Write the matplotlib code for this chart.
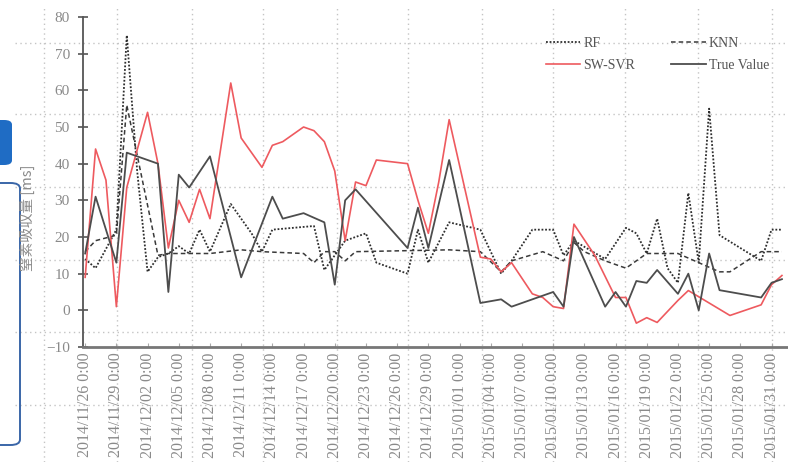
import matplotlib
matplotlib.use("Agg")
import matplotlib.pyplot as plt
import matplotlib.dates as mdates
import matplotlib.patches as patches
from matplotlib.lines import Line2D
from matplotlib.ticker import FixedLocator, FuncFormatter
import numpy as np
import pandas as pd

plt.rcParams['font.family'] = ['Liberation Serif', 'DejaVu Serif']

# data: day offsets from 2014/11/26 and values
start = pd.Timestamp("2014-11-26")

true_days = [0, 1, 3, 4, 7, 8, 9, 10, 12, 15, 18, 19, 21, 23, 24, 25, 26, 31, 32, 33, 35,
             38, 40, 41, 45, 46, 47, 50, 51, 52, 53, 54, 55, 57, 58, 59, 60, 61, 65, 66, 67]
true_vals = [15.5, 31, 13, 43, 40, 5, 37, 33.5, 42, 9, 31, 25, 26.5, 24, 7, 30, 33, 17, 28, 17, 41,
             2, 3, 1, 5, 1, 20, 1, 5, 1, 8, 7.5, 11, 4.5, 10, 0, 15.5, 5.5, 3.5, 7.5, 8.5]

svr_days = [0, 1, 2, 3, 4, 6, 7, 8, 9, 10, 11, 12, 14, 15, 17, 18, 19, 21, 22, 23, 24, 25, 26,
            27, 28, 31, 32, 33, 34, 35, 38, 39, 40, 41, 43, 44, 45, 46, 47, 49, 51, 52, 53,
            54, 55, 57, 58, 60, 62, 65, 66, 67]
svr_vals = [9, 44, 35.5, 1, 33.5, 54, 40, 17, 30, 24, 33, 25, 62, 47, 39, 45, 46, 50, 49, 46, 38, 19, 35,
            34, 41, 40, 30, 21, 35, 52, 14.5, 14, 10.5, 13, 4.5, 3.5, 1, 0.5, 23.5, 15, 3.5, 3.5, -3.5,
            -2, -3.3, 2.7, 5.4, 2, -1.4, 1.5, 7, 9.5]

rf_days = [0, 1, 3, 4, 5, 6, 7, 8, 9, 10, 11, 12, 14, 16, 17, 18, 22, 23, 25, 27, 28, 31, 32, 33,
           35, 38, 40, 41, 43, 45, 46, 47, 50, 52, 53, 54, 55, 56, 57, 58, 59, 60, 61, 65, 66, 67]
rf_vals = [14, 11.5, 22, 75, 38, 10.5, 14.5, 15.5, 17.5, 15.5, 22, 16, 29, 21, 16, 22, 23, 11, 19, 21, 13,
           10, 22, 13, 24, 22, 10, 13.5, 22, 22, 15, 19, 14, 22.5, 21, 15.5, 25, 11.5, 7.5, 32, 13, 55,
           20.5, 13.5, 22, 22]

knn_days = [0, 1, 3, 4, 7, 8, 12, 15, 17, 21, 22, 23, 24, 25, 26, 35, 38, 40, 41, 44, 46, 47, 48,
            50, 52, 54, 57, 59, 61, 62, 65, 67]
knn_vals = [16, 19, 20.5, 56, 15, 15.5, 15.5, 16.5, 16, 15.5, 13, 16, 16, 13.5, 16, 16.5, 16, 10.5, 13.5,
            16, 13.5, 18.5, 16, 13.5, 11.5, 15.5, 15.5, 13, 10.5, 10.5, 16, 16]

tick_dates = pd.date_range("2014-11-26", "2015-01-31", freq="3D")


def to_dates(days):
    return start + pd.to_timedelta(days, unit="D")


fig = plt.figure(figsize=(7.88, 4.62), dpi=100)

# page grid behind everything
W, H = 788.0, 462.0
grid_kw = dict(color="#c4c4c4", linestyle=(0, (1, 2.5)), linewidth=1.0, zorder=0)
for yp in [43, 114, 187, 260, 332, 405]:
    fig.add_artist(Line2D([15 / W, 1], [1 - yp / H] * 2, transform=fig.transFigure, **grid_kw))
for xp in [44, 117, 192, 263, 337, 408, 482, 553, 625, 698, 772]:
    fig.add_artist(Line2D([xp / W] * 2, [0, 1 - 8 / H], transform=fig.transFigure, **grid_kw))

# blue ui boxes on the left edge
fig.add_artist(patches.FancyBboxPatch((-10 / W, 1 - 165 / H), 22 / W, 45 / H,
                                      boxstyle="round,pad=0,rounding_size=0.01",
                                      transform=fig.transFigure, facecolor="#1f6cc4",
                                      edgecolor="none", zorder=1))
fig.add_artist(patches.FancyBboxPatch((-20 / W, 1 - 445 / H), 40 / W, 262 / H,
                                      boxstyle="round,pad=0,rounding_size=0.012",
                                      transform=fig.transFigure, facecolor="none",
                                      edgecolor="#3a66a8", linewidth=1.4, zorder=1))

ax = fig.add_axes([83 / W, 1 - 347 / H, 1 - 83 / W, 330 / H])
ax.set_facecolor("none")

l_rf, = ax.plot(to_dates(rf_days), rf_vals, color="#2e2e2e", linestyle=(0, (1, 1)), linewidth=1.3, label="RF")
l_knn, = ax.plot(to_dates(knn_days), knn_vals, color="#3a3a3a", linestyle=(0, (3, 2)), linewidth=1.1, label="KNN")
l_svr, = ax.plot(to_dates(svr_days), svr_vals, color="#ee5a5f", linewidth=1.2, label="SW-SVR")
l_true, = ax.plot(to_dates(true_days), true_vals, color="#4d4d4d", linewidth=1.3, label="True Value")

ax.set_xlim(start - pd.Timedelta(hours=5), start + pd.Timedelta(hours=int(67.6 * 24)))
ax.set_ylim(-10, 80)
ax.set_yticks(np.arange(-10, 81, 10))

ax.xaxis.set_major_locator(FixedLocator(mdates.date2num(tick_dates)))
ax.xaxis.set_major_formatter(FuncFormatter(
    lambda v, p: "{} {}:{:%M}".format(mdates.num2date(v).strftime("%Y/%m/%d"),
                                      mdates.num2date(v).hour, mdates.num2date(v))))

for s in ["top", "right"]:
    ax.spines[s].set_visible(False)
ax.spines["left"].set_color("#555555")
ax.spines["left"].set_linewidth(1.3)
ax.spines["bottom"].set_color("#777777")
ax.spines["bottom"].set_linewidth(2.0)

ax.tick_params(axis="y", direction="inout", length=7, width=1.2, color="#555555",
               labelsize=11, labelcolor="#8a8a8a", pad=6)
ax.tick_params(axis="x", direction="in", length=3, color="#aaaaaa",
               labelsize=11.5, labelcolor="#8a8a8a", labelrotation=90, pad=4)

fig.text(27 / W, 1 - 218 / H, "窒素吸収量 [ms]", rotation=90, ha="center", va="center",
         fontsize=10.5, color="#8a8a8a", family=["Noto Sans CJK JP", "DejaVu Sans"])

ax.legend([l_rf, l_svr, l_knn, l_true], ["RF", "SW-SVR", "KNN", "True Value"],
          loc="upper left", bbox_to_anchor=(540 / W, 1 - 31 / H), bbox_transform=fig.transFigure,
          ncol=2, frameon=False, fontsize=10, handlelength=2.5, columnspacing=2.6,
          handletextpad=0.2, labelspacing=0.65, labelcolor="#555555", borderaxespad=0)

fig.savefig("out.png", dpi=100)
